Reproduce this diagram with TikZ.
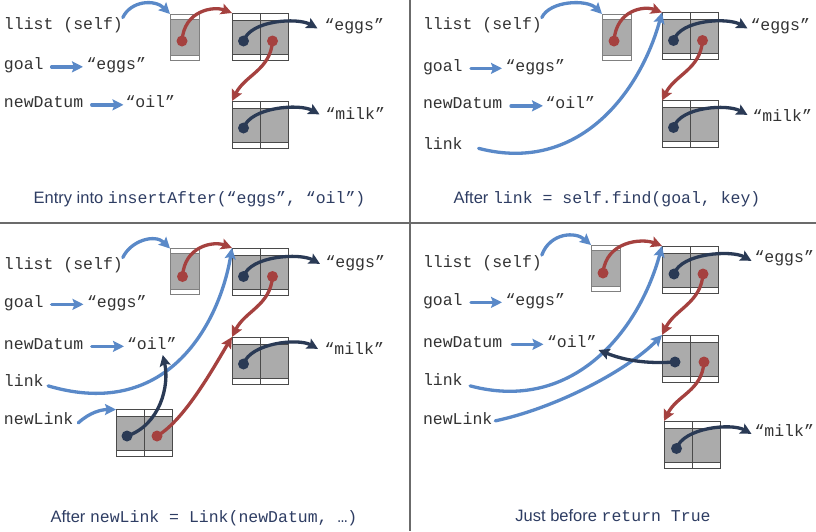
\documentclass[tikz,border=0pt]{standalone}
\usepackage{fontspec}
\setmainfont{Liberation Sans}
\setsansfont{Liberation Sans}
\setmonofont{Liberation Mono}
\usetikzlibrary{arrows.meta,calc}
\definecolor{cblue}{HTML}{5A89C8}
\definecolor{cred}{HTML}{A5413F}
\definecolor{cnavy}{HTML}{2A3A55}
\definecolor{cgray}{HTML}{ABABAB}
\definecolor{cedge}{HTML}{4A4A4A}
\definecolor{chedge}{HTML}{808080}
\definecolor{cdiv}{HTML}{6B6B6B}
\definecolor{ccap}{HTML}{2E3D63}
\definecolor{ctext}{HTML}{333333}
\tikzset{
  lbl/.style={font=\ttfamily\fontsize{16.5}{18}\selectfont, text=ctext, inner sep=0pt, outer sep=0pt, anchor=base west},
  captxt/.style={font=\sffamily\fontsize{16.5}{18}\selectfont, text=ccap, inner sep=0pt, anchor=base},
  conn/.style={line width=3.3pt, line cap=round, -{Stealth[length=11pt,width=11pt,inset=2pt]}},
  bluearr/.style={conn, draw=cblue},
  redarr/.style={conn, draw=cred},
  navyarr/.style={conn, draw=cnavy},
  rdot/.style={circle, fill=cred, inner sep=0pt, minimum size=11pt},
  ndot/.style={circle, fill=cnavy, inner sep=0pt, minimum size=11pt},
  linkbox/.style={draw=cedge, line width=1pt, fill=white, inner sep=0pt, outer sep=0pt,
    anchor=north west, minimum width=56pt, minimum height=47pt,
    path picture={
      \fill[cgray] ([yshift=-7pt]path picture bounding box.north west) rectangle ([yshift=6pt]path picture bounding box.south east);
      \draw[cedge, line width=1pt]
        ([yshift=-7pt]path picture bounding box.north west) -- ([yshift=-7pt]path picture bounding box.north east)
        ([yshift=6pt]path picture bounding box.south west) -- ([yshift=6pt]path picture bounding box.south east)
        (path picture bounding box.north) -- (path picture bounding box.south);
    }},
  headbox/.style={draw=chedge, line width=1pt, fill=white, inner sep=0pt, outer sep=0pt,
    anchor=north west, minimum width=29pt, minimum height=46pt,
    path picture={
      \fill[cgray] ([yshift=-5pt]path picture bounding box.north west) rectangle ([yshift=5pt]path picture bounding box.south east);
      \draw[chedge, line width=1pt]
        ([yshift=-5pt]path picture bounding box.north west) -- ([yshift=-5pt]path picture bounding box.north east)
        ([yshift=5pt]path picture bounding box.south west) -- ([yshift=5pt]path picture bounding box.south east);
    }},
  divider/.style={draw=cdiv, line width=2pt}
}
\begin{document}
\begin{tikzpicture}[x=1pt,y=-1pt]
\useasboundingbox (0,0) rectangle (816,531);
\fill[white] (0,0) rectangle (816,531);
\draw[divider] (409.5,0) -- (409.5,531);
\draw[divider] (0,222.5) -- (816,222.5);

% ---------------- Panel 1 ----------------
\node[lbl] (a-self) at (4,29.5) {llist (self)};
\node[lbl] (a-goal) at (4,69.5) {goal};
\node[lbl] (a-geggs) at (86.5,69.5) {“eggs”};
\node[lbl] (a-nd) at (4,107.5) {newDatum};
\node[lbl] (a-oil) at (125.5,107.5) {“oil”};
\node[headbox] (a-H) at (170,14) {};
\node[linkbox] (a-L1) at (232,13) {};
\node[linkbox] (a-L2) at (232,101) {};
\node[lbl] (a-eggs) at (324.5,30) {“eggs”};
\node[lbl] (a-milk) at (325.5,119) {“milk”};
\node[captxt] (a-cap) at (199.5,203) {Entry into \texttt{insertAfter(“eggs”, “oil”)}};
\draw[bluearr] (a-self.north east) .. controls +(8,-17) and +(-15,-15) .. (a-H.north west);
\draw[bluearr, shorten <=8pt, shorten >=3.5pt] (a-goal.mid east) -- (a-geggs.mid west);
\draw[bluearr, shorten <=8.5pt, shorten >=2pt] (a-nd.mid east) -- (a-oil.mid west);
\node[rdot] (a-Hd) at ($(a-H.north west)+(12,27)$) {};
\node[ndot] (a-L1d) at ($(a-L1.north west)+(11.5,28)$) {};
\node[rdot] (a-L1n) at ($(a-L1.north west)+(40.5,28)$) {};
\node[ndot] (a-L2d) at ($(a-L2.north west)+(11.5,27)$) {};
\draw[redarr] (a-Hd.center) .. controls +(2,-31) and +(-18,-7) .. (a-L1.north west);
\draw[navyarr] (a-L1d.center) .. controls +(7,-21) and +(-20,-11) .. ($(a-eggs.mid west)+(-7,1)$);
\draw[redarr] (a-L1n.center) .. controls +(-2,29) and +(13,-26) .. (a-L2.north west);
\draw[navyarr] (a-L2d.center) .. controls +(7,-21) and +(-20,-11) .. ($(a-milk.mid west)+(-6,-2)$);

% ---------------- Panel 2 ----------------
\node[lbl] (b-self) at (423,29.5) {llist (self)};
\node[lbl] (b-goal) at (423,71) {goal};
\node[lbl] (b-geggs) at (505.5,71) {“eggs”};
\node[lbl] (b-nd) at (423,108.5) {newDatum};
\node[lbl] (b-oil) at (545.5,108.5) {“oil”};
\node[lbl] (b-link) at (423,149.5) {link};
\node[headbox] (b-H) at (602,14) {};
\node[linkbox] (b-L1) at (662,12.5) {};
\node[linkbox] (b-L2) at (662,100.5) {};
\node[lbl] (b-eggs) at (750.5,30) {“eggs”};
\node[lbl] (b-milk) at (752.5,121.5) {“milk”};
\node[captxt] (b-cap) at (607,203) {After \texttt{link = self.find(goal, key)}};
\draw[bluearr] (b-self.north east) .. controls +(8,-17) and +(-15,-15) .. (b-H.north west);
\draw[bluearr, shorten <=8.4pt, shorten >=3.5pt] (b-goal.mid east) -- (b-geggs.mid west);
\draw[bluearr, shorten <=8.8pt, shorten >=2.5pt] (b-nd.mid east) -- (b-oil.mid west);
\draw[bluearr] ($(b-link.mid east)+(16,1.5)$) .. controls +(100,26) and +(-22,80) .. (b-L1.north west);
\node[rdot] (b-Hd) at ($(b-H.north west)+(12,27)$) {};
\node[ndot] (b-L1d) at ($(b-L1.north west)+(11.5,28)$) {};
\node[rdot] (b-L1n) at ($(b-L1.north west)+(40.5,28)$) {};
\node[ndot] (b-L2d) at ($(b-L2.north west)+(11.5,27)$) {};
\draw[redarr] (b-Hd.center) .. controls +(2,-31) and +(-18,-7) .. (b-L1.north west);
\draw[navyarr] (b-L1d.center) .. controls +(7,-21) and +(-20,-11) .. ($(b-eggs.mid west)+(-3,1)$);
\draw[redarr] (b-L1n.center) .. controls +(-2,29) and +(13,-26) .. (b-L2.north west);
\draw[navyarr] (b-L2d.center) .. controls +(7,-21) and +(-20,-11) .. ($(b-milk.mid west)+(-5,-4)$);

% ---------------- Panel 3 ----------------
\node[lbl] (c-self) at (4,269.5) {llist (self)};
\node[lbl] (c-goal) at (4,307) {goal};
\node[lbl] (c-geggs) at (87,307) {“eggs”};
\node[lbl] (c-nd) at (4,349) {newDatum};
\node[lbl] (c-oil) at (127,349) {“oil”};
\node[lbl] (c-link) at (4,386.5) {link};
\node[lbl] (c-nl) at (4,424.5) {newLink};
\node[headbox] (c-H) at (170,248.5) {};
\node[linkbox] (c-L1) at (232,248) {};
\node[linkbox] (c-L2) at (232,337) {};
\node[linkbox] (c-N) at (116,409.5) {};
\node[lbl] (c-eggs) at (325.5,267) {“eggs”};
\node[lbl] (c-milk) at (324.5,354) {“milk”};
\node[captxt] (c-cap) at (204,522) {After \texttt{newLink = Link(newDatum, …)}};
\draw[bluearr] (c-self.north east) .. controls +(8,-17) and +(-15,-15) .. (c-H.north west);
\draw[bluearr, shorten <=8pt, shorten >=3.5pt] (c-goal.mid east) -- (c-geggs.mid west);
\draw[bluearr, shorten <=8.5pt, shorten >=3pt] (c-nd.mid east) -- (c-oil.mid west);
\draw[bluearr] ($(c-link.mid east)+(4.5,2)$) .. controls +(122,36) and +(-12,72) .. (c-L1.north west);
\draw[bluearr] ($(c-nl.mid east)+(5,1)$) .. controls +(12,-11) and +(-14,0) .. (c-N.north west);
\node[rdot] (c-Hd) at ($(c-H.north west)+(12.5,28)$) {};
\node[ndot] (c-L1d) at ($(c-L1.north west)+(11.5,28.5)$) {};
\node[rdot] (c-L1n) at ($(c-L1.north west)+(40.5,28.5)$) {};
\node[ndot] (c-L2d) at ($(c-L2.north west)+(11.5,27)$) {};
\node[ndot] (c-Nd) at ($(c-N.north west)+(11,26.5)$) {};
\node[rdot] (c-Nn) at ($(c-N.north west)+(41,26.5)$) {};
\draw[redarr] (c-Hd.center) .. controls +(2,-31) and +(-18,-7) .. (c-L1.north west);
\draw[navyarr] (c-L1d.center) .. controls +(7,-21) and +(-20,-11) .. ($(c-eggs.mid west)+(-5.5,-0.5)$);
\draw[redarr] (c-L1n.center) .. controls +(-2,29) and +(13,-26) .. (c-L2.north west);
\draw[navyarr] (c-L2d.center) .. controls +(7,-21) and +(-20,-11) .. ($(c-milk.mid west)+(-6.5,-2.5)$);
\draw[navyarr] (c-Nd.center) .. controls +(33,-11) and +(7,30.5) .. ($(c-oil.base)+(11,6)$);
\draw[redarr] (c-Nn.center) .. controls +(28,-16) and +(-17,28) .. (c-L2.north west);

% ---------------- Panel 4 ----------------
\node[lbl] (d-self) at (423,267) {llist (self)};
\node[lbl] (d-goal) at (423,305) {goal};
\node[lbl] (d-geggs) at (505.5,305) {“eggs”};
\node[lbl] (d-nd) at (423,347) {newDatum};
\node[lbl] (d-oil) at (547,347) {“oil”};
\node[lbl] (d-link) at (423,385.5) {link};
\node[lbl] (d-nl) at (423,424) {newLink};
\node[headbox] (d-H) at (591,245) {};
\node[linkbox] (d-L1) at (662,246) {};
\node[linkbox] (d-N) at (662,335) {};
\node[linkbox] (d-L2) at (664,421) {};
\node[lbl] (d-eggs) at (754.5,262) {“eggs”};
\node[lbl] (d-milk) at (754.5,436) {“milk”};
\node[captxt] (d-cap) at (613,521) {Just before \texttt{return True}};
\draw[bluearr] (d-self.north east) .. controls +(8,-22) and +(-16,-14) .. (d-H.north west);
\draw[bluearr, shorten <=8.4pt, shorten >=3.5pt] (d-goal.mid east) -- (d-geggs.mid west);
\draw[bluearr, shorten <=10pt, shorten >=3.5pt] (d-nd.mid east) -- (d-oil.mid west);
\draw[bluearr] ($(d-link.mid east)+(7.5,3)$) .. controls +(105,28) and +(-22,82) .. (d-L1.north west);
\draw[bluearr] ($(d-nl.mid east)+(3,-0.5)$) .. controls +(65,-14) and +(-32,33) .. (d-N.north west);
\node[rdot] (d-Hd) at ($(d-H.north west)+(12,28)$) {};
\node[ndot] (d-L1d) at ($(d-L1.north west)+(12,28)$) {};
\node[rdot] (d-L1n) at ($(d-L1.north west)+(41,28)$) {};
\node[ndot] (d-Nd) at ($(d-N.north west)+(13,27)$) {};
\node[rdot] (d-Nn) at ($(d-N.north west)+(42,27)$) {};
\node[ndot] (d-L2d) at ($(d-L2.north west)+(12.5,27.5)$) {};
\draw[redarr] (d-Hd.center) .. controls +(3,-32) and +(-20,-8) .. (d-L1.north west);
\draw[navyarr] (d-L1d.center) .. controls +(7,-21) and +(-20,-11) .. ($(d-eggs.mid west)+(-3,1.5)$);
\draw[redarr] (d-L1n.center) .. controls +(-2,29) and +(13,-26) .. (d-N.north west);
\draw[navyarr] (d-Nd.center) .. controls +(-30,2) and +(25,10) .. ($(d-oil.base east)+(2,3)$);
\draw[redarr] (d-Nn.center) .. controls +(-2,29) and +(13,-26) .. (d-L2.north west);
\draw[navyarr] (d-L2d.center) .. controls +(7,-21) and +(-20,-11) .. ($(d-milk.mid west)+(-3,0.5)$);
\end{tikzpicture}
\end{document}
